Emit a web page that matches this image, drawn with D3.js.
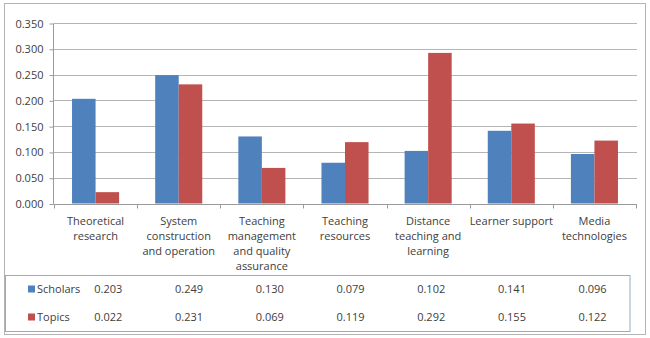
<!DOCTYPE html>
<html>
<head>
<meta charset="utf-8">
<script src="https://cdn.jsdelivr.net/npm/d3@7/dist/d3.min.js"></script>
<style>
  html, body { margin: 0; padding: 0; background: #fff; }
  svg { display: block; }
  text { font-family: "Open Sans", "Noto Sans", sans-serif; font-size: 11px; fill: #404040; }
</style>
</head>
<body>
<svg id="chart" width="650" height="338"></svg>
<script>
// ---- data ----
const categories = [
  "Theoretical\nresearch",
  "System\nconstruction\nand operation",
  "Teaching\nmanagement\nand quality\nassurance",
  "Teaching\nresources",
  "Distance\nteaching and\nlearning",
  "Learner support",
  "Media\ntechnologies"
];
const seriesNames = ["Scholars", "Topics"];
const scholars = [0.203, 0.249, 0.130, 0.079, 0.102, 0.141, 0.096];
const topics   = [0.022, 0.231, 0.069, 0.119, 0.292, 0.155, 0.122];
const yTicks = [0, 0.05, 0.10, 0.15, 0.20, 0.25, 0.30, 0.35];
const colors = ["#4F81BD", "#C0504D"];

const seriesValues = [scholars, topics];

const svg = d3.select("#chart");

// outer border
svg.append("rect").attr("x", 4.5).attr("y", 3.5).attr("width", 641).attr("height", 331)
  .attr("fill", "none").attr("stroke", "#b4b4b4").attr("stroke-width", 1);

const x0 = d3.scaleBand().domain(d3.range(categories.length)).range([54, 636]).padding(0);
const bw = x0.bandwidth();
const x1 = d3.scaleBand().domain(seriesNames).range([bw * 0.217, bw * 0.783]).padding(0);
const y = d3.scaleLinear().domain([0, 0.35]).range([203.5, 23]);

// gridlines
svg.append("g").selectAll("line").data(yTicks.filter(d => d > 0)).join("line")
  .attr("x1", 54).attr("x2", 637)
  .attr("y1", d => Math.round(y(d)) + 0.5).attr("y2", d => Math.round(y(d)) + 0.5)
  .attr("stroke", "#b5b5b5").attr("stroke-width", 1);

// y axis
const yAxis = d3.axisLeft(y).tickValues(yTicks).tickFormat(d3.format(".3f")).tickSize(4).tickPadding(6);
const gy = svg.append("g").attr("transform", "translate(53.5,0.5)").call(yAxis);
gy.select(".domain").attr("stroke", "#9a9a9a").attr("d", "M0," + y(0.35) + "V" + y(0));
gy.selectAll(".tick line").attr("stroke", "#9a9a9a");
gy.selectAll(".tick text").style("font-family", "'Open Sans', sans-serif").style("font-size", "11px").attr("fill", "#404040");

// bars
const groups = svg.append("g").selectAll("g").data(categories.map((c, i) => i)).join("g")
  .attr("transform", i => `translate(${x0(i)},0)`);
groups.selectAll("rect").data(i => seriesNames.map((s, k) => ({ s, v: seriesValues[k][i], k })))
  .join("rect")
  .attr("x", d => x1(d.s))
  .attr("width", x1.bandwidth())
  .attr("y", d => y(d.v))
  .attr("height", d => y(0) - y(d.v))
  .attr("fill", d => colors[d.k]);

// x axis
const xAxisY = Math.round(y(0)) + 0.5;
svg.append("line").attr("x1", 53.5).attr("x2", 637).attr("y1", xAxisY).attr("y2", xAxisY)
  .attr("stroke", "#9a9a9a");
const boundaries = d3.range(categories.length + 1).map(i => i < categories.length ? x0(i) : x0(categories.length - 1) + bw);
svg.append("g").selectAll("line").data(boundaries).join("line")
  .attr("x1", d => Math.round(d) + 0.5).attr("x2", d => Math.round(d) + 0.5)
  .attr("y1", xAxisY).attr("y2", xAxisY + 4).attr("stroke", "#9a9a9a");

// category labels
const labels = svg.append("g").selectAll("text").data(categories).join("text")
  .attr("text-anchor", "middle")
  .attr("x", (d, i) => x0(i) + bw / 2)
  .attr("y", 225);
labels.selectAll("tspan").data(d => d.split("\n")).join("tspan")
  .attr("x", function () { return d3.select(this.parentNode).attr("x"); })
  .attr("dy", (d, j) => j === 0 ? 0 : 15)
  .text(d => d);

// data table
svg.append("rect").attr("x", 5.5).attr("y", 275.5).attr("width", 624.5).attr("height", 56)
  .attr("fill", "none").attr("stroke", "#95abc9").attr("stroke-width", 1);

const colX = d3.scaleBand().domain(d3.range(categories.length)).range([68, 633]);
const rowY = d3.scalePoint().domain(seriesNames).range([289, 317]);

seriesNames.forEach((s, k) => {
  const cy = rowY(s);
  svg.append("rect").attr("x", 28).attr("y", cy - 3.5).attr("width", 7).attr("height", 7).attr("fill", colors[k]);
  svg.append("text").attr("x", 37).attr("y", cy + 4).text(s);
  svg.append("g").selectAll("text").data(seriesValues[k]).join("text")
    .attr("text-anchor", "middle")
    .attr("x", (d, i) => colX(i) + colX.bandwidth() / 2)
    .attr("y", cy + 4)
    .text(d => d3.format(".3f")(d));
});
</script>
</body>
</html>
